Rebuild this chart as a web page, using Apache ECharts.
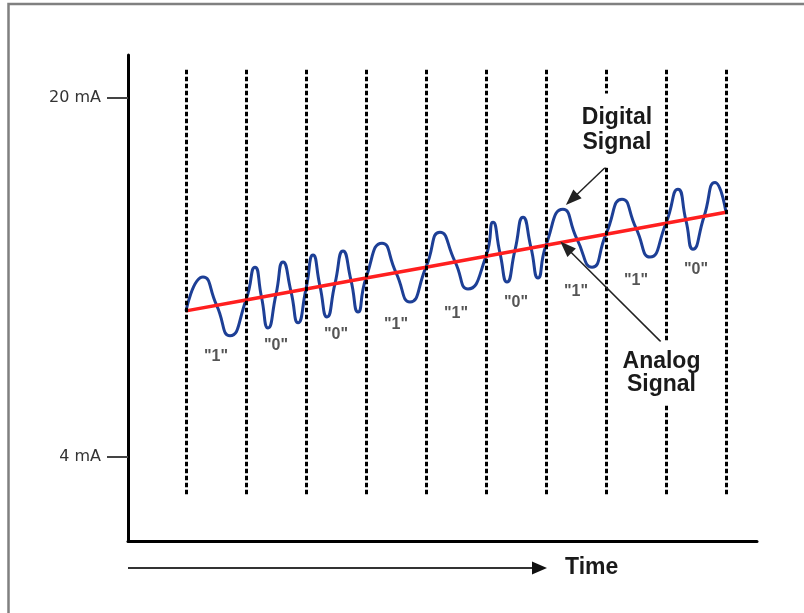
<!DOCTYPE html>
<html><head><meta charset="utf-8">
<script src="https://cdn.jsdelivr.net/npm/echarts@6/dist/echarts.min.js"></script>
<style>html,body{margin:0;padding:0;background:#fff}#c{width:804px;height:613px}</style>
</head><body><div id="c"></div>
<script>
// Bit values carried by the FSK digital signal
const bits = ['1', '0', '0', '1', '1', '0', '1', '1', '0'];
// Bit boundaries (time, in bit periods) – the dashed lines
const bitBoundaries = [0, 1, 2, 3, 4, 5, 6, 7, 8, 9];
// Analog 4-20 mA signal level at each bit boundary (mA)
const analogMA = [10.49, 10.98, 11.47, 11.96, 12.44, 12.93, 13.42, 13.91, 14.40, 14.89];
// Digital (FSK) signal: points read from peaks, troughs and crossings
const digitalT = [0, 0.283, 0.508, 0.733, 1.0, 1.15, 1.258, 1.367, 1.5, 1.617, 1.75, 1.867,
  2.0, 2.117, 2.233, 2.35, 2.483, 2.617, 2.75, 2.867, 3.0, 3.267, 3.5, 3.733,
  4.0, 4.233, 4.483, 4.7, 5.0, 5.117, 5.233, 5.35, 5.483, 5.617, 5.75, 5.867,
  6.0, 6.283, 6.517, 6.767, 7.0, 7.267, 7.5, 7.733, 8.0, 8.2, 8.333, 8.45, 8.633, 8.817, 9.0];
const digitalMA = [10.49, 12.0, 10.76, 9.38, 10.98, 12.44, 11.11, 9.73, 11.23, 12.67, 11.35, 9.96,
  11.47, 12.98, 11.59, 10.22, 11.71, 13.16, 11.85, 10.44, 11.96, 13.51, 12.2, 10.89,
  12.44, 14.0, 12.69, 11.47, 12.93, 14.44, 13.07, 11.78, 13.2, 14.67, 13.31, 11.96,
  13.42, 15.02, 13.69, 12.44, 13.91, 15.47, 14.18, 12.89, 14.4, 15.91, 14.51, 13.24, 14.69, 16.22, 14.89];
// Y-axis tick values (mA)
const yTickValues = [4, 20];

const chart = echarts.init(document.getElementById('c'), null, {renderer: 'canvas'});
const LABEL_DROP = 2.3;
const option = {
  animation: false,
  backgroundColor: '#fff',
  grid: {left: 128, right: 47, top: 55, bottom: 72, containLabel: false},
  xAxis: {
    type: 'value', min: -0.9667, max: 9.5167,
    axisLine: {show: true, onZero: false, lineStyle: {color: '#000', width: 3}},
    axisTick: {show: false}, axisLabel: {show: false}, splitLine: {show: false}
  },
  yAxis: {
    type: 'value', min: 0.23, max: 21.9,
    axisLine: {show: true, onZero: false, lineStyle: {color: '#000', width: 3}},
    axisTick: {show: true, customValues: yTickValues, length: 21, lineStyle: {color: '#444', width: 2}},
    axisLabel: {show: true, customValues: yTickValues, margin: 27, formatter: v => v + ' mA',
      fontFamily: 'DejaVu Sans', fontSize: 16, color: '#333'},
    splitLine: {show: false}
  },
  series: [
    {
      type: 'line', data: [], z: 1, silent: true,
      markLine: {
        silent: true, symbol: ['none', 'none'], label: {show: false},
        lineStyle: {color: '#000', width: 3, type: [4.5, 2.5], cap: 'butt'},
        emphasis: {disabled: true},
        data: bitBoundaries.map(t => [{coord: [t, 2.31]}, {coord: [t, 21.29]}])
      }
    },
    {
      name: 'Digital Signal', type: 'line', z: 2, silent: true,
      data: digitalT.map((t, i) => [t, digitalMA[i]]),
      smooth: 0.6, showSymbol: false,
      lineStyle: {color: '#1d3f96', width: 3}
    },
    {
      name: 'Analog Signal', type: 'line', z: 3, silent: true,
      data: bitBoundaries.map((t, i) => [t, analogMA[i]]),
      showSymbol: false,
      lineStyle: {color: '#ff1f1f', width: 3.5},
      markLine: {
        silent: true, symbol: ['none', 'triangle'], symbolSize: [12, 16],
        label: {show: false}, emphasis: {disabled: true},
        lineStyle: {color: '#222', width: 1.5, type: 'solid'},
        data: [
          [{coord: [7.078, 17.12]}, {coord: [6.428, 15.46]}],
          [{coord: [7.912, 9.12]}, {coord: [6.333, 13.33]}]
        ]
      }
    },
    {
      type: 'scatter', z: 4, silent: true, symbolSize: 1,
      itemStyle: {color: 'rgba(0,0,0,0)', opacity: 1},
      data: bits.map((b, i) => [bitBoundaries[i] + 0.5, (analogMA[i] + analogMA[i + 1]) / 2 - LABEL_DROP]),
      label: {show: true, position: 'inside', formatter: p => '"' + bits[p.dataIndex] + '"',
        fontFamily: 'Liberation Sans', fontWeight: 'bold', fontSize: 16, color: '#555'}
    },
    {
      type: 'scatter', z: 5, silent: true, symbolSize: 1,
      itemStyle: {color: 'rgba(0,0,0,0)', opacity: 1},
      data: [
        {value: [7.183, 18.53], label: {formatter: 'Digital\nSignal', lineHeight: 25, padding: [6, 2, 18, 2]}},
        {value: [7.925, 7.71], label: {formatter: 'Analog\nSignal', lineHeight: 23, padding: [7, 2, 10, 2]}}
      ],
      label: {show: true, position: 'inside', fontFamily: 'Liberation Sans', fontWeight: 'bold',
        fontSize: 23, color: '#1a1a1a', backgroundColor: '#fff', align: 'center'}
    }
  ],
  graphic: [
    {type: 'polyline', silent: true, shape: {points: [[8.5, 613], [8.5, 4], [804, 4]]},
      style: {stroke: '#808080', lineWidth: 2.5, fill: null}},
    {type: 'line', silent: true, shape: {x1: 128, y1: 568, x2: 534, y2: 568},
      style: {stroke: '#333', lineWidth: 2}},
    {type: 'polygon', silent: true, shape: {points: [[532, 561.5], [547, 568], [532, 574.5]]},
      style: {fill: '#111'}},
    {type: 'text', silent: true, left: 565, top: 556,
      style: {text: 'Time', fontFamily: 'Liberation Sans', fontWeight: 'bold', fontSize: 23, fill: '#1a1a1a'}}
  ]
};
chart.setOption(option);
</script>
</body></html>
